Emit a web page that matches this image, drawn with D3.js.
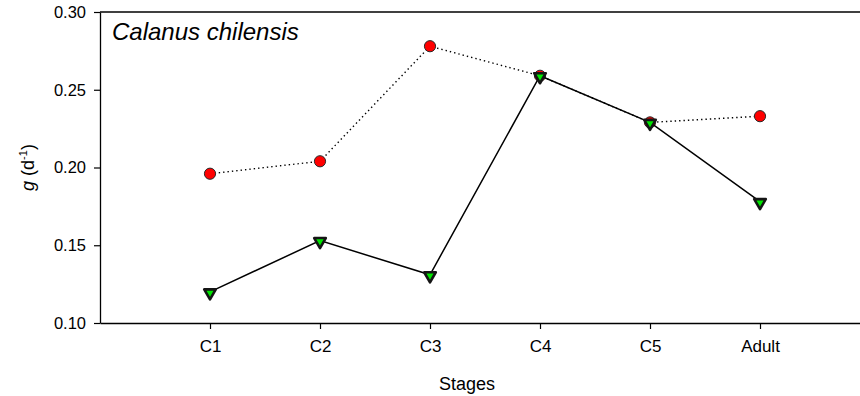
<!DOCTYPE html>
<html>
<head>
<meta charset="utf-8">
<script src="https://cdn.jsdelivr.net/npm/d3@7"></script>
<style>
  html, body { margin: 0; padding: 0; background: #fff; }
  svg { display: block; font-family: "Liberation Sans", Arial, sans-serif; }
</style>
</head>
<body>
<svg id="chart" width="860" height="396"></svg>
<script>
// Grazing rate g (d^-1) of Calanus chilensis by developmental stage
const stages = ["C1", "C2", "C3", "C4", "C5", "Adult"];
const seriesCircle = [0.196, 0.204, 0.278, 0.259, 0.229, 0.233];
const seriesTriangle = [0.120, 0.153, 0.131, 0.259, 0.229, 0.178];
const yTicks = [0.10, 0.15, 0.20, 0.25, 0.30];

const svg = d3.select("#chart");
const plotLeft = 100, plotRight = 870, plotTop = 12, plotBottom = 323;

const x = d3.scaleLinear().domain([0, 7]).range([plotLeft, plotRight]);
const y = d3.scaleLinear().domain([0.10, 0.30]).range([plotBottom, plotTop]);

// axes frame: left, top, bottom
svg.append("line").attr("x1", plotLeft).attr("x2", plotRight).attr("y1", plotTop).attr("y2", plotTop)
  .attr("stroke", "#000").attr("stroke-width", 1.3);

const yAxis = svg.append("g").attr("transform", `translate(${plotLeft},0)`)
  .call(d3.axisLeft(y).tickValues(yTicks).tickFormat(d3.format(".2f")).tickSizeInner(6).tickSizeOuter(0).tickPadding(8));
const xAxis = svg.append("g").attr("transform", `translate(0,${plotBottom})`)
  .call(d3.axisBottom(x).tickValues(d3.range(1, stages.length + 1))
    .tickFormat((d) => stages[d - 1]).tickSizeInner(6).tickSizeOuter(0).tickPadding(11));

[yAxis, xAxis].forEach((g) => {
  g.select(".domain").attr("stroke", "#000").attr("stroke-width", 1.3);
  g.selectAll(".tick line").attr("stroke", "#000").attr("stroke-width", 1.2);
  g.selectAll(".tick text").attr("fill", "#000")
    .attr("font-family", "Liberation Sans, Arial, sans-serif");
});
yAxis.selectAll(".tick text").attr("font-size", 16.5);
xAxis.selectAll(".tick text").attr("font-size", 17);

// series: dotted line with red circles
const line = d3.line().x((d, i) => x(i + 1)).y((d) => y(d));
svg.append("path").datum(seriesCircle).attr("d", line)
  .attr("fill", "none").attr("stroke", "#000").attr("stroke-width", 1.4)
  .attr("stroke-dasharray", "1.4,3");
svg.append("g").selectAll("circle").data(seriesCircle).join("circle")
  .attr("cx", (d, i) => x(i + 1)).attr("cy", (d) => y(d)).attr("r", 5.6)
  .attr("fill", "#ff0000").attr("stroke", "#2a2a2a").attr("stroke-width", 1);

// series: solid line with green down-triangles
svg.append("path").datum(seriesTriangle).attr("d", line)
  .attr("fill", "none").attr("stroke", "#000").attr("stroke-width", 1.5);
const tri = d3.symbol().type(d3.symbolTriangle).size(58);
svg.append("g").selectAll("path").data(seriesTriangle).join("path")
  .attr("d", tri)
  .attr("transform", (d, i) => `translate(${x(i + 1)},${y(d) + 0.8}) rotate(180)`)
  .attr("fill", "#00e600").attr("stroke", "#151515").attr("stroke-width", 2.6)
  .attr("stroke-linejoin", "round");

// title inside plot
svg.append("text").attr("x", 112).attr("y", 40)
  .attr("font-size", 24).attr("font-style", "italic").attr("fill", "#000")
  .text("Calanus chilensis");

// axis titles
const yl = svg.append("text").attr("transform", "translate(34,167.5) rotate(-90)")
  .attr("text-anchor", "middle").attr("font-size", 18).attr("fill", "#000");
yl.append("tspan").attr("font-style", "italic").text("g");
yl.append("tspan").text(" (d");
yl.append("tspan").attr("font-size", 11).attr("dy", -7).text("-1");
yl.append("tspan").attr("dy", 7).text(")");

svg.append("text").attr("x", 467).attr("y", 390).attr("text-anchor", "middle")
  .attr("font-size", 18).attr("fill", "#000").text("Stages");
</script>
</body>
</html>
